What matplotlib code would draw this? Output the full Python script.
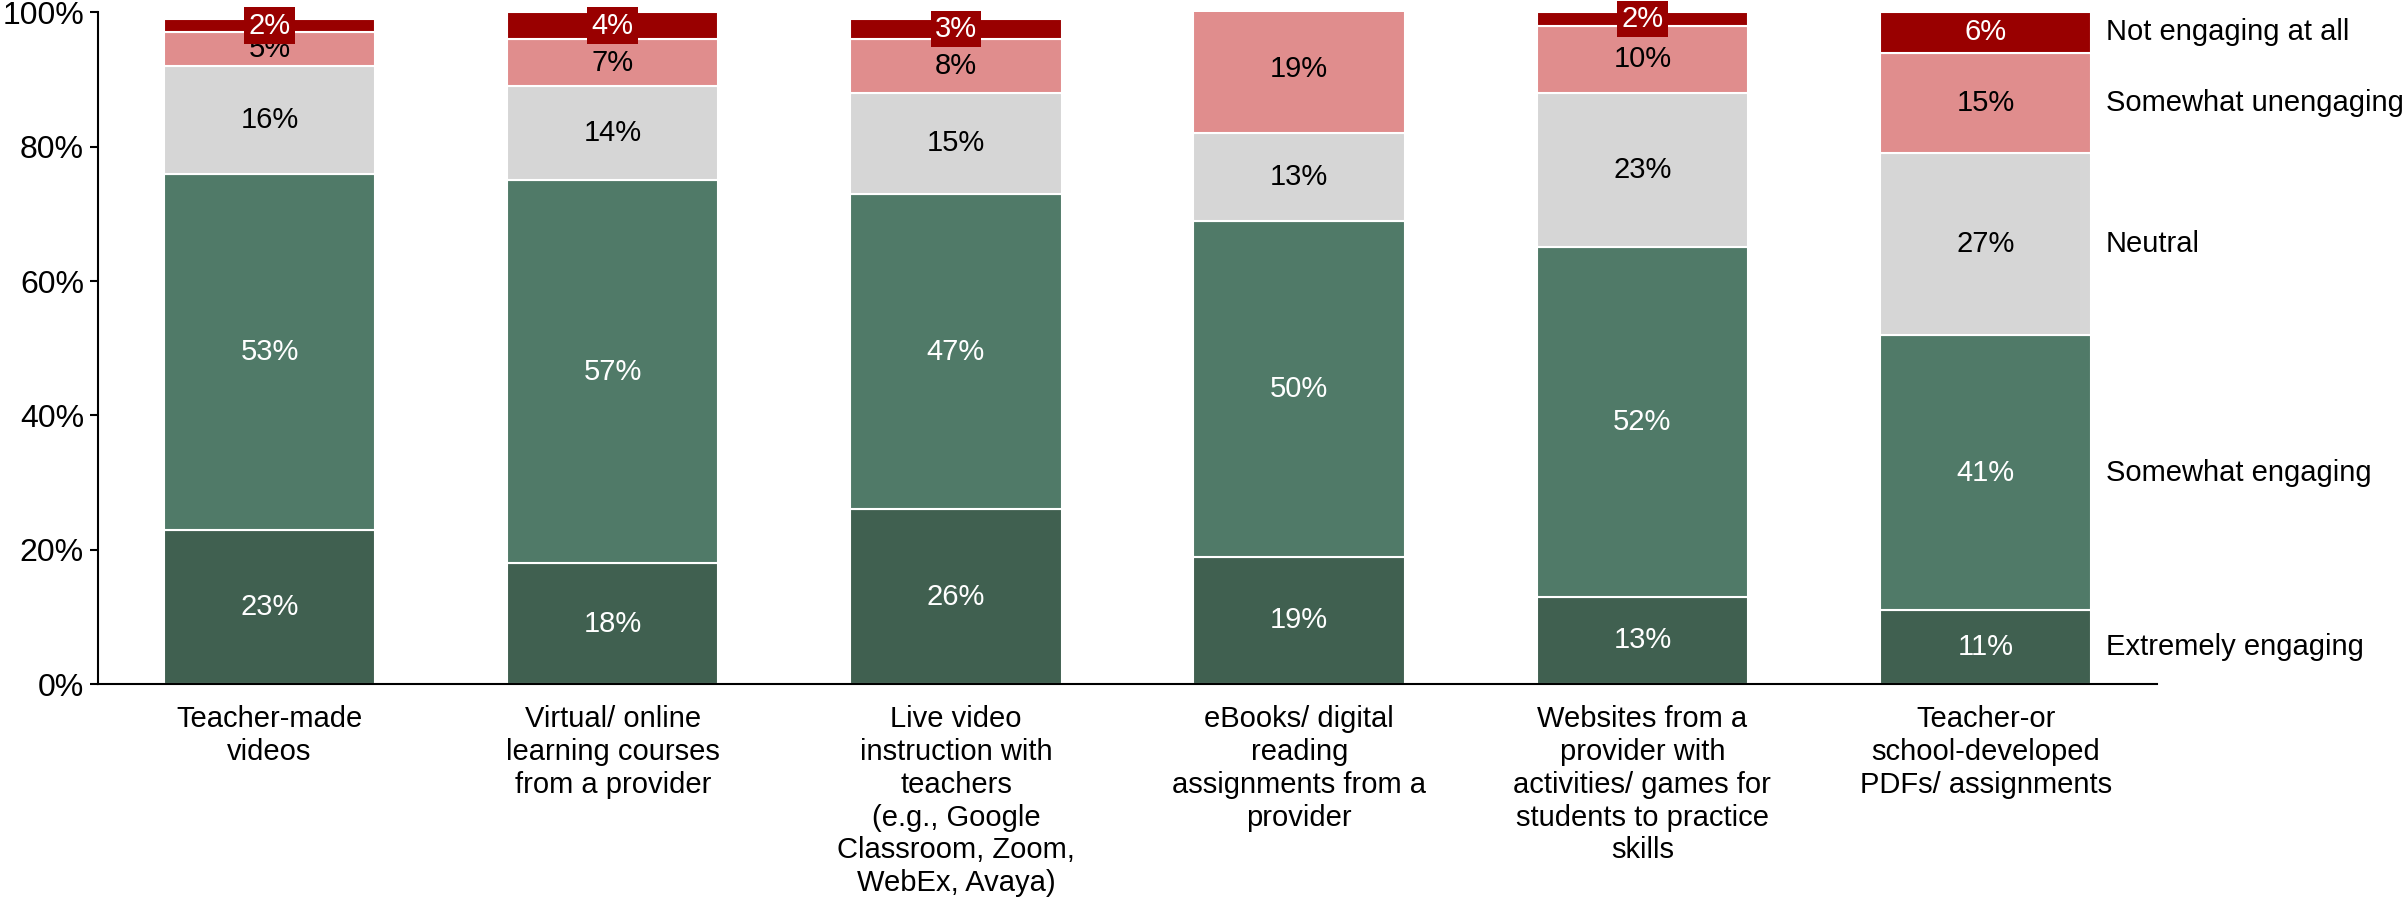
import matplotlib.pyplot as plt
import numpy as np

plt.rcParams['font.family'] = ['Liberation Sans', 'DejaVu Sans']

categories = [
    'Teacher-made\nvideos',
    'Virtual/ online\nlearning courses\nfrom a provider',
    'Live video\ninstruction with\nteachers\n(e.g., Google\nClassroom, Zoom,\nWebEx, Avaya)',
    'eBooks/ digital\nreading\nassignments from a\nprovider',
    'Websites from a\nprovider with\nactivities/ games for\nstudents to practice\nskills',
    'Teacher-or\nschool-developed\nPDFs/ assignments',
]

levels = ['Extremely engaging', 'Somewhat engaging', 'Neutral',
          'Somewhat unengaging', 'Not engaging at all']

extremely = [23, 18, 26, 19, 13, 11]
somewhat = [53, 57, 47, 50, 52, 41]
neutral = [16, 14, 15, 13, 23, 27]
unengaging = [5, 7, 8, 19, 10, 15]
not_at_all = [2, 4, 3, 0, 2, 6]

series = [extremely, somewhat, neutral, unengaging, not_at_all]
colors = ['#406050', '#507A68', '#D6D6D6', '#E08D8D', '#990000']
text_colors = ['white', 'white', 'black', 'black', 'white']

fig = plt.figure(figsize=(24.05, 9.11), dpi=100)
ax = fig.add_axes([0.0407, 0.249, 0.8563, 0.7375])

x = np.arange(len(categories))
bottom = np.zeros(len(categories))
for vals, col, tcol in zip(series, colors, text_colors):
    vals = np.array(vals, dtype=float)
    ax.bar(x, vals, width=0.616, bottom=bottom, color=col,
           edgecolor='white', linewidth=1.5)
    for xi, v, b in zip(x, vals, bottom):
        if v <= 0:
            continue
        if col == '#990000':
            # small top segments get a filled box so the label stays readable
            ax.text(xi, b + v / 2, f'{v:.0f}%', ha='center', va='center',
                    color=tcol, fontsize=21, zorder=5,
                    bbox=dict(boxstyle='square,pad=0.15', fc=col, ec='none'))
        else:
            ax.text(xi, b + v / 2, f'{v:.0f}%', ha='center', va='center',
                    color=tcol, fontsize=21)
    bottom += vals

# series names beside the last bar
last = len(categories) - 1
base = 0
for name, vals in zip(levels, series):
    ax.text(last + 0.35, base + vals[last] / 2, name, ha='left', va='center',
            fontsize=21, clip_on=False)
    base += vals[last]

ax.set_xlim(-0.5, 5.5)
ax.set_ylim(0, 100)
ax.set_yticks(range(0, 101, 20))
ax.set_yticklabels([f'{t}%' for t in range(0, 101, 20)], fontsize=23)
ax.set_xticks(x)
ax.set_xticklabels(categories, fontsize=21, linespacing=1.22)
ax.tick_params(axis='x', length=0, pad=15)
ax.tick_params(axis='y', length=6, width=1.5, pad=4)
for s in ['top', 'right']:
    ax.spines[s].set_visible(False)
for s in ['left', 'bottom']:
    ax.spines[s].set_linewidth(1.5)

fig.savefig('out.png', dpi=100)
